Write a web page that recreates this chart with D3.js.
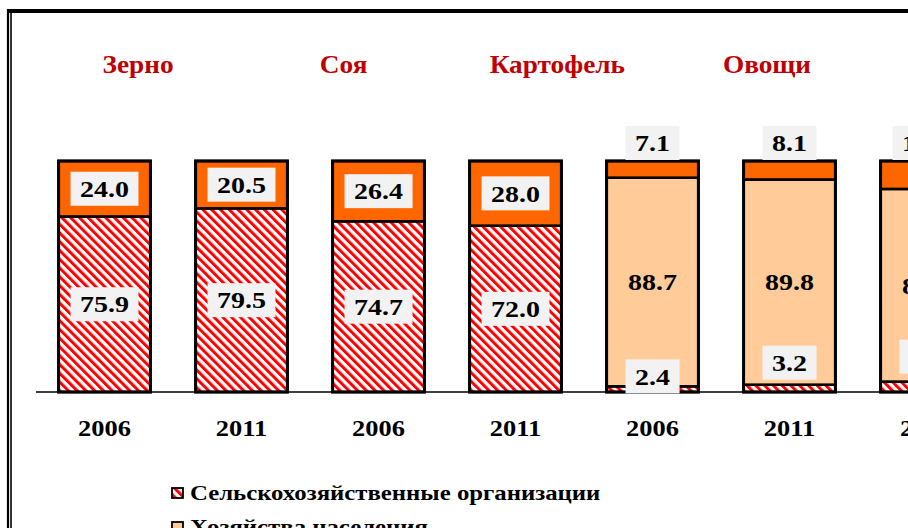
<!DOCTYPE html>
<html><head><meta charset="utf-8">
<script src="https://cdn.jsdelivr.net/npm/d3@7"></script>
<style>html,body{margin:0;padding:0;background:#fff;overflow:hidden}</style>
</head><body><svg id="c" width="908" height="528"></svg>
<script>
// ---- data ----
const bars = ["Зерно 2006","Зерно 2011","Соя 2006","Соя 2011","Картофель 2006","Картофель 2011","Овощи 2006"];
const years = ["2006","2011","2006","2011","2006","2011","2006"];
const cropTitles = ["Зерно","Соя","Картофель","Овощи"];
const orgValues = [75.9,79.5,74.7,72.0,2.4,3.2,4.5];
const householdValues = [0,0,0,0,88.7,89.8,83.4];
const farmValues = [24.0,20.5,26.4,28.0,7.1,8.1,12.1];
const seriesNames = ["Сельскохозяйственные организации","Хозяйства населения","Крестьянские (фермерские) хозяйства"];
const seriesKeys = ["org","hh","farm"];

// ---- layout ----
const W = 908, H = 528;
const baseY = 392, topY = 161;
const SX = 1.19;
const smallLabelLift = [0,0,0,0,10,22,25];
const FONT = "'Liberation Serif','Times New Roman',serif";

const svg = d3.select("#c");
const defs = svg.append("defs");
const pat = defs.append("pattern").attr("id","hatch").attr("patternUnits","userSpaceOnUse")
  .attr("width",6.2).attr("height",10).attr("patternTransform","rotate(-45)");
pat.append("rect").attr("width",6.2).attr("height",10).attr("fill","#fff");
pat.append("rect").attr("width",3).attr("height",10).attr("fill","#ff0000");

const colors = {org:"url(#hatch)", hh:"#ffcc99", farm:"#ff6600"};

const rows = bars.map((b,i)=>({bar:b, year:years[i], org:orgValues[i], hh:householdValues[i], farm:farmValues[i], i}));

const x = d3.scaleBand().domain(bars).range([36, 36 + bars.length*137]).paddingInner(0.33).paddingOuter(0.165);
const y = d3.scaleLinear().domain([0,1]).range([baseY, topY]);
const stack = d3.stack().keys(seriesKeys).offset(d3.stackOffsetExpand);
const series = stack(rows);

// frame
svg.append("line").attr("x1",8).attr("x2",8).attr("y1",9).attr("y2",H).attr("stroke","#000").attr("stroke-width",2.2);
svg.append("line").attr("x1",7).attr("x2",W).attr("y1",11).attr("y2",11).attr("stroke","#000").attr("stroke-width",4);
svg.append("line").attr("x1",11).attr("x2",11).attr("y1",11).attr("y2",H).attr("stroke","#000").attr("stroke-width",1.6);

// titles
const tx = d3.scalePoint().domain(cropTitles).range([138, 767]);
svg.selectAll("text.title").data(cropTitles).join("text").attr("class","title")
  .attr("transform", (d,i)=>`translate(${tx(d) - (i===1?4:0)},73) scale(1.05,1)`)
  .attr("text-anchor","middle").attr("fill","#c00000")
  .style("font-family",FONT).style("font-weight","bold").style("font-size","26px").text(d=>d);

// bars
series.forEach(s=>{
  svg.append("g").selectAll("rect").data(s).join("rect")
    .attr("x", d=>x(d.data.bar)).attr("width", x.bandwidth())
    .attr("y", d=>y(d[1])).attr("height", d=>Math.max(0, y(d[0])-y(d[1])))
    .attr("fill", colors[s.key]).attr("stroke","#000").attr("stroke-width",2.6);
});
// outline
svg.append("g").selectAll("rect").data(rows).join("rect")
  .attr("x", d=>x(d.bar)).attr("width", x.bandwidth()).attr("y", y(1)).attr("height", y(0)-y(1))
  .attr("fill","none").attr("stroke","#000").attr("stroke-width",3);

// baseline
svg.append("line").attr("x1", x.range()[0]).attr("x2", W).attr("y1", baseY).attr("y2", baseY).attr("stroke","#000").attr("stroke-width",1.5);

// labels
function label(cx, cy, text, box){
  const g = svg.append("g").attr("transform", `translate(${cx},${cy}) scale(${SX},1)`);
  const r = g.append("rect").attr("fill","#f2f2f2");
  const t = g.append("text").attr("text-anchor","middle").attr("dy","0.35em")
    .style("font-family",FONT).style("font-weight","bold").style("font-size","23.5px").attr("fill","#000").text(text);
  if (box){
    const bb = t.node().getBBox();
    r.attr("x", bb.x-8).attr("y",-17).attr("width", bb.width+16).attr("height",34);
  } else r.remove();
}
series.forEach(s=>{
  s.forEach(d=>{
    const v = d.data[s.key];
    if (!v) return;
    const cx = x(d.data.bar) + x.bandwidth()/2;
    const h = y(d[0]) - y(d[1]);
    let cy = (y(d[0]) + y(d[1]))/2;
    if (h < 30){
      if (s.key === "farm") cy = y(d[1]) - 18;
      else cy = y(d[1]) - smallLabelLift[d.data.i];
    }
    label(cx, cy, v.toFixed(1), s.key !== "hh");
  });
});

// year axis labels
svg.selectAll("text.year").data(rows).join("text").attr("class","year")
  .attr("transform", d=>`translate(${x(d.bar)+x.bandwidth()/2},436) scale(1.15,1)`)
  .attr("text-anchor","middle").style("font-family",FONT).style("font-weight","bold").style("font-size","23px")
  .text(d=>d.year);

// legend
const lg = svg.append("g");
seriesNames.forEach((n,i)=>{
  const ly = 493 + i*34;
  lg.append("rect").attr("x",172).attr("y",ly-5).attr("width",11).attr("height",10)
    .attr("fill", colors[seriesKeys[i]]).attr("stroke","#000").attr("stroke-width",1.8);
  lg.append("text").attr("transform",`translate(190,${ly+7}) scale(1.18,1)`)
    .style("font-family",FONT).style("font-weight","bold").style("font-size","21px").text(n);
});
</script></body></html>
